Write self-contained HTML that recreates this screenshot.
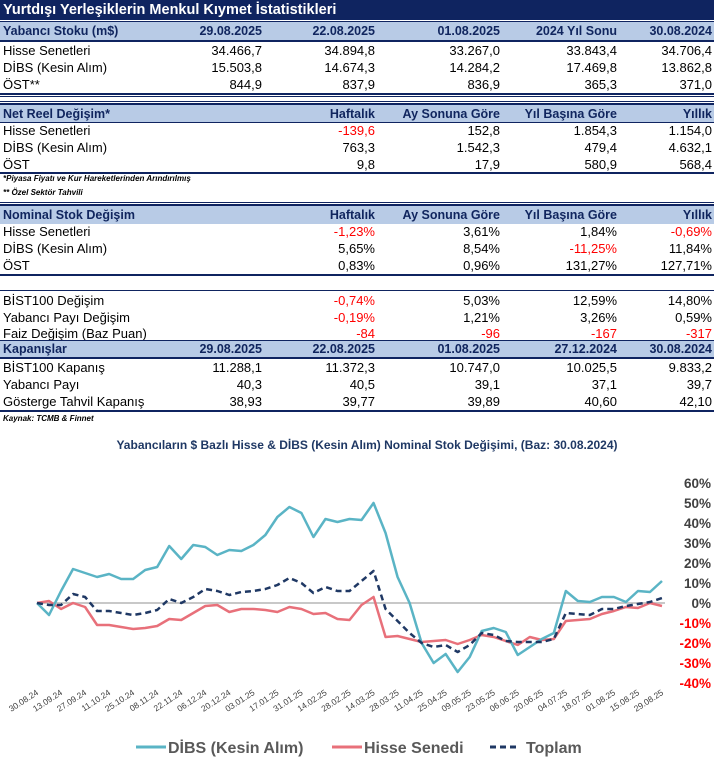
<!DOCTYPE html>
<html><head><meta charset="utf-8">
<style>
body{margin:0;width:714px;height:763px;background:#fff;position:relative;overflow:hidden;font-family:"Liberation Sans",Arial,sans-serif;}
.a{position:absolute;}
.bar{position:absolute;left:0;width:714px;background:#0f2460;height:2px;}
.tbar{position:absolute;left:0;width:714px;height:20px;top:0;background:#0f2460;color:#fff;font-weight:bold;font-size:14.5px;line-height:20px;padding-left:3px;box-sizing:border-box;}
.hdr{position:absolute;left:0;width:714px;height:18px;background:#b8cbe6;color:#10255e;font-weight:bold;font-size:12.5px;line-height:18px;}
.row{position:absolute;left:0;width:714px;height:17px;font-size:13px;line-height:17px;color:#000;}
.row span,.hdr span{position:absolute;white-space:nowrap;}
.l{left:3px;}
.c1{right:452px}.c2{right:339px}.c3{right:214px}.c4{right:97px}.c5{right:2px}
.r{color:#f00}
.note{position:absolute;left:3px;font-size:8px;font-style:italic;font-weight:bold;}
</style></head><body>
<div class="tbar">Yurtdışı Yerleşiklerin Menkul Kıymet İstatistikleri</div>
<div class="bar" style="top:21px;height:1px"></div>
<div class="hdr" style="top:22px"><span class="l">Yabancı Stoku (m$)</span><span class="c1">29.08.2025</span><span class="c2">22.08.2025</span><span class="c3">01.08.2025</span><span class="c4">2024 Yıl Sonu</span><span class="c5">30.08.2024</span></div>
<div class="bar" style="top:40px"></div>
<div class="row" style="top:42px"><span class="l">Hisse Senetleri</span><span class="c1">34.466,7</span><span class="c2">34.894,8</span><span class="c3">33.267,0</span><span class="c4">33.843,4</span><span class="c5">34.706,4</span></div>
<div class="row" style="top:59px"><span class="l">DİBS (Kesin Alım)</span><span class="c1">15.503,8</span><span class="c2">14.674,3</span><span class="c3">14.284,2</span><span class="c4">17.469,8</span><span class="c5">13.862,8</span></div>
<div class="row" style="top:76px"><span class="l">ÖST**</span><span class="c1">844,9</span><span class="c2">837,9</span><span class="c3">836,9</span><span class="c4">365,3</span><span class="c5">371,0</span></div>
<div class="bar" style="top:93px"></div><div class="bar" style="top:96px;height:1px"></div>

<div class="bar" style="top:101px;height:1px"></div><div class="bar" style="top:103px"></div>
<div class="hdr" style="top:105px"><span class="l">Net Reel Değişim*</span><span class="c2">Haftalık</span><span class="c3">Ay Sonuna Göre</span><span class="c4">Yıl Başına Göre</span><span class="c5">Yıllık</span></div>
<div class="bar" style="top:122px;height:1px"></div>
<div class="row" style="top:122px"><span class="l">Hisse Senetleri</span><span class="c2 r">-139,6</span><span class="c3">152,8</span><span class="c4">1.854,3</span><span class="c5">1.154,0</span></div>
<div class="row" style="top:139px"><span class="l">DİBS (Kesin Alım)</span><span class="c2">763,3</span><span class="c3">1.542,3</span><span class="c4">479,4</span><span class="c5">4.632,1</span></div>
<div class="row" style="top:156px"><span class="l">ÖST</span><span class="c2">9,8</span><span class="c3">17,9</span><span class="c4">580,9</span><span class="c5">568,4</span></div>
<div class="bar" style="top:172px"></div>
<div class="note" style="top:174px">*Piyasa Fiyatı ve Kur Hareketlerinden Arındırılmış</div>
<div class="note" style="top:188px">** Özel Sektör Tahvili</div>

<div class="bar" style="top:202px;height:1px"></div><div class="bar" style="top:204px"></div>
<div class="hdr" style="top:206px"><span class="l">Nominal Stok Değişim</span><span class="c2">Haftalık</span><span class="c3">Ay Sonuna Göre</span><span class="c4">Yıl Başına Göre</span><span class="c5">Yıllık</span></div>
<div class="row" style="top:223px"><span class="l">Hisse Senetleri</span><span class="c2 r">-1,23%</span><span class="c3">3,61%</span><span class="c4">1,84%</span><span class="c5 r">-0,69%</span></div>
<div class="row" style="top:240px"><span class="l">DİBS (Kesin Alım)</span><span class="c2">5,65%</span><span class="c3">8,54%</span><span class="c4 r">-11,25%</span><span class="c5">11,84%</span></div>
<div class="row" style="top:257px"><span class="l">ÖST</span><span class="c2">0,83%</span><span class="c3">0,96%</span><span class="c4">131,27%</span><span class="c5">127,71%</span></div>
<div class="bar" style="top:274px"></div>

<div class="bar" style="top:290px;height:1px"></div>
<div class="row" style="top:292px"><span class="l">BİST100 Değişim</span><span class="c2 r">-0,74%</span><span class="c3">5,03%</span><span class="c4">12,59%</span><span class="c5">14,80%</span></div>
<div class="row" style="top:309px"><span class="l">Yabancı Payı Değişim</span><span class="c2 r">-0,19%</span><span class="c3">1,21%</span><span class="c4">3,26%</span><span class="c5">0,59%</span></div>
<div class="row" style="top:325px"><span class="l">Faiz Değişim (Baz Puan)</span><span class="c2 r">-84</span><span class="c3 r">-96</span><span class="c4 r">-167</span><span class="c5 r">-317</span></div>
<div class="bar" style="top:340px;height:1px"></div>
<div class="hdr" style="top:341px;height:17px;line-height:17px"><span class="l">Kapanışlar</span><span class="c1">29.08.2025</span><span class="c2">22.08.2025</span><span class="c3">01.08.2025</span><span class="c4">27.12.2024</span><span class="c5">30.08.2024</span></div>
<div class="bar" style="top:357px"></div>
<div class="row" style="top:359px"><span class="l">BİST100 Kapanış</span><span class="c1">11.288,1</span><span class="c2">11.372,3</span><span class="c3">10.747,0</span><span class="c4">10.025,5</span><span class="c5">9.833,2</span></div>
<div class="row" style="top:376px"><span class="l">Yabancı Payı</span><span class="c1">40,3</span><span class="c2">40,5</span><span class="c3">39,1</span><span class="c4">37,1</span><span class="c5">39,7</span></div>
<div class="row" style="top:393px"><span class="l">Gösterge Tahvil Kapanış</span><span class="c1">38,93</span><span class="c2">39,77</span><span class="c3">39,89</span><span class="c4">40,60</span><span class="c5">42,10</span></div>
<div class="bar" style="top:410px"></div>
<div class="note" style="top:414px">Kaynak: TCMB &amp; Finnet</div>

<svg class="a" style="left:0;top:0" width="714" height="763" id="chart">
<text x="367" y="449" text-anchor="middle" font-size="12" font-weight="bold" fill="#1f3864">Yabancıların $ Bazlı Hisse &amp; DİBS (Kesin Alım) Nominal Stok Değişimi, (Baz: 30.08.2024)</text>
<g id="plot"></g>
<g>
<line x1="136" y1="747" x2="166" y2="747" stroke="#5ab4c5" stroke-width="3"/>
<text x="168" y="753" font-size="16" font-weight="bold" fill="#595959">DİBS (Kesin Alım)</text>
<line x1="332" y1="747" x2="362" y2="747" stroke="#e8707a" stroke-width="3"/>
<text x="364" y="753" font-size="16" font-weight="bold" fill="#595959">Hisse Senedi</text>
<line x1="490" y1="747" x2="520" y2="747" stroke="#1f3864" stroke-width="3" stroke-dasharray="6,4"/>
<text x="526" y="753" font-size="16" font-weight="bold" fill="#595959">Toplam</text>
</g>
</svg>
<script>
const xLabels=["30.08.24","13.09.24","27.09.24","11.10.24","25.10.24","08.11.24","22.11.24","06.12.24","20.12.24","03.01.25","17.01.25","31.01.25","14.02.25","28.02.25","14.03.25","28.03.25","11.04.25","25.04.25","09.05.25","23.05.25","06.06.25","20.06.25","04.07.25","18.07.25","01.08.25","15.08.25","29.08.25"];
const yTicks=[60,50,40,30,20,10,0,-10,-20,-30,-40];
const dibs=[0,-6,6,17,15,13,14.5,12,12,16.5,18,28.5,22,29,28,24,26.5,26,29,34,43,48,45,33,42,40.5,42,41.5,50,35,13,0,-20,-30,-25.5,-34.5,-27,-14,-12.5,-14.5,-26,-22,-18,-15,6,1,0.5,3,3,0.5,6,5.5,11];
const hisse=[0,1,-3,0,-2,-11,-11,-12,-13,-12.5,-11.5,-8,-8.5,-5,-1.5,-1,-4.5,-3,-3,-3.5,-4.5,-2,-3,-5.5,-5,-8,-8.5,-1,3,-17,-16.5,-18,-19.5,-19,-18.5,-20.5,-18.5,-16,-17,-19,-21,-17,-18.5,-18,-9,-8.5,-8,-5.5,-4,-2,-2.5,0,-1.5];
const toplam=[0,-1,-1,4.5,3,-4,-4,-5,-6,-5,-3.5,2,0,3,7,6,4,5.5,6,7,9,12.5,10,5,8,6,6,11,16,-3,-9,-15,-20,-22,-21,-24.5,-21,-15,-16,-19,-19.5,-19.5,-19.5,-18,-5,-5.5,-6,-3,-3,-1.5,-0.5,0.5,2.5];
const NS="http://www.w3.org/2000/svg";
const g=document.getElementById('plot');
const X0=37,X1=662,N=dibs.length;
function xs(i){return X0+(X1-X0)*i/(N-1);}
function ys(v){return 603-v*2;}
function mk(t,a){const e=document.createElementNS(NS,t);for(const k in a)e.setAttribute(k,a[k]);g.appendChild(e);return e;}
const z=mk('line',{x1:X0,x2:X1+3,y1:ys(0),y2:ys(0),stroke:'#c8c8c8','stroke-width':2});


yTicks.forEach(v=>{const t=mk('text',{x:711,y:ys(v)+5,'text-anchor':'end','font-size':13.5,'font-weight':'bold',fill:v<0?'#ff0000':'#404040'});t.textContent=v+'%';

});
xLabels.forEach((s,k)=>{const x=xs(k*2)+2,y=694;const t=mk('text',{x:x,y:y,'text-anchor':'end','font-size':8.5,fill:'#404040',transform:`rotate(-33 ${x} ${y})`});t.textContent=s;

});
function series(arr,color,dash,name){const p=mk('polyline',{points:arr.map((v,i)=>xs(i)+','+ys(v)).join(' '),fill:'none',stroke:color,'stroke-width':2.5,'stroke-linejoin':'round'});if(dash)p.setAttribute('stroke-dasharray',dash);

}
series(hisse,'#e8707a',null,'hisse-line');
series(dibs,'#5ab4c5',null,'dibs-line');
series(toplam,'#1f3864','6,4','toplam-line');
</script>
</body></html>
